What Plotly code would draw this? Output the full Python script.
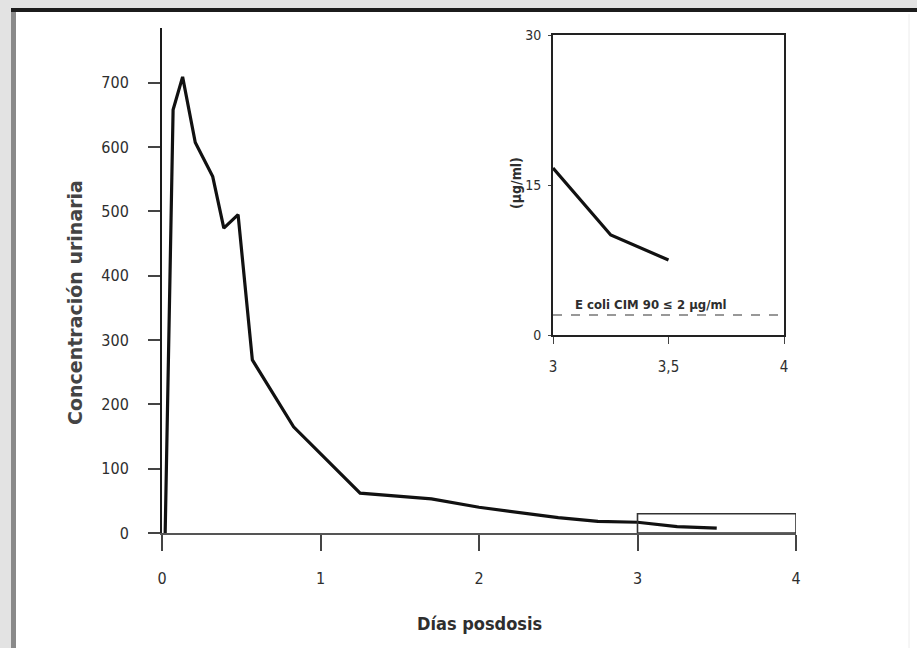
import plotly.graph_objects as go

# ---------------- data ----------------
dias = [0.02, 0.07, 0.13, 0.21, 0.32, 0.39, 0.48, 0.57, 0.83, 1.25, 1.70, 2.00, 2.50, 2.75, 3.00, 3.25, 3.50]
conc = [0, 658, 709, 607, 554, 474, 495, 269, 165, 62, 53, 40, 24, 18, 16.7, 10, 7.5]

x_ticks_main = [0, 1, 2, 3, 4]
y_ticks_main = [0, 100, 200, 300, 400, 500, 600, 700]

inset_x_ticks = [3, 3.5, 4]
inset_x_labels = ["3", "3,5", "4"]
inset_y_ticks = [0, 15, 30]
mic_value = 2
mic_label = "E coli CIM 90 ≤ 2 µg/ml"

inset_dias = [d for d in dias if d >= 3]
inset_conc = [c for d, c in zip(dias, conc) if d >= 3]

# ---------------- geometry helpers ----------------
W, H = 917, 648
L, R, T, B = 162, 796, 28, 533  # main plot area in pixels


def px(xp):
    return (xp - L) / (R - L)


def py(yp):
    return (B - yp) / (B - T)


NARROW = "Liberation Sans Narrow, DejaVu Sans Condensed, Arial Narrow, sans-serif"
TXT = "#2e2e2e"

fig = go.Figure()

fig.add_trace(go.Scatter(
    x=dias, y=conc, mode="lines",
    line=dict(color="#111111", width=3.2),
    xaxis="x", yaxis="y", hoverinfo="skip", showlegend=False,
))

fig.add_trace(go.Scatter(
    x=inset_dias, y=inset_conc, mode="lines",
    line=dict(color="#111111", width=3.2),
    xaxis="x2", yaxis="y2", hoverinfo="skip", showlegend=False,
))

fig.add_trace(go.Scatter(
    x=[inset_x_ticks[0], inset_x_ticks[-1]], y=[mic_value, mic_value], mode="lines",
    line=dict(color="#777777", width=1.6, dash="dash"),
    xaxis="x2", yaxis="y2", hoverinfo="skip", showlegend=False,
))

shapes = [
    # scan frame: grey margins
    dict(type="rect", xref="paper", yref="paper", x0=px(0), x1=px(11), y0=py(H), y1=py(0),
         fillcolor="#e3e3e3", line=dict(width=0), layer="below"),
    dict(type="rect", xref="paper", yref="paper", x0=px(0), x1=px(W), y0=py(8), y1=py(0),
         fillcolor="#e3e3e3", line=dict(width=0), layer="below"),
    # frame borders
    dict(type="line", xref="paper", yref="paper", x0=px(13.5), x1=px(13.5), y0=py(H), y1=py(9),
         line=dict(color="#8a8a8a", width=5)),
    dict(type="line", xref="paper", yref="paper", x0=px(11), x1=px(W), y0=py(10), y1=py(10),
         line=dict(color="#1c1c1c", width=4)),
    dict(type="line", xref="paper", yref="paper", x0=px(909), x1=px(909), y0=py(H), y1=py(14),
         line=dict(color="#ececec", width=1)),
    # zoom-region rectangle in main plot
    dict(type="rect", xref="x", yref="y", x0=3, x1=4, y0=0, y1=30,
         line=dict(color="#333333", width=1.6)),
]

annotations = [
    dict(text="Concentración urinaria", xref="paper", yref="paper",
         x=px(75), y=py(303), xanchor="center", yanchor="middle",
         textangle=-90, showarrow=False,
         font=dict(family="DejaVu Sans, sans-serif", size=19, color="#444444", weight="bold")),
    dict(text="Días posdosis", xref="paper", yref="paper",
         x=px(479), y=py(623), xanchor="center", yanchor="middle", showarrow=False,
         font=dict(family=NARROW, size=18, color=TXT, weight="bold")),
    dict(text="(µg/ml)", xref="paper", yref="paper",
         x=px(516), y=py(183), xanchor="center", yanchor="middle",
         textangle=-90, showarrow=False,
         font=dict(family=NARROW, size=14, color=TXT, weight="bold")),
    dict(text=mic_label, xref="x2", yref="y2",
         x=3.085, y=mic_value, yshift=11, xanchor="left", yanchor="middle", showarrow=False,
         font=dict(family=NARROW, size=13, color=TXT, weight="bold")),
]

fig.update_layout(
    width=W, height=H,
    margin=dict(l=L, r=W - R, t=T, b=H - B, pad=0),
    paper_bgcolor="white", plot_bgcolor="white",
    font=dict(family=NARROW, size=16, color=TXT),
    showlegend=False,
    shapes=shapes,
    annotations=annotations,
    xaxis=dict(
        domain=[0, 1], range=[0, 4], anchor="y",
        tickvals=x_ticks_main, ticks="outside", ticklen=16, tickwidth=1.5, tickcolor="#444",
        showline=True, linecolor="#555555", linewidth=1.5,
        showgrid=False, zeroline=False, ticklabelstandoff=14,
        tickfont=dict(family=NARROW, size=16, color=TXT),
    ),
    yaxis=dict(
        domain=[0, 1], range=[0, 785], anchor="x",
        tickvals=y_ticks_main, ticks="outside", ticklen=12, tickwidth=1.5, tickcolor="#444",
        showline=True, linecolor="#1a1a1a", linewidth=2,
        showgrid=False, zeroline=False, ticklabelstandoff=16,
        tickfont=dict(family=NARROW, size=16, color=TXT),
    ),
    xaxis2=dict(
        domain=[px(553), px(784)], range=[3, 4], anchor="y2",
        tickvals=inset_x_ticks, ticktext=inset_x_labels,
        ticks="outside", ticklen=7, tickwidth=1.2, tickcolor="#444",
        showline=True, mirror=True, linecolor="#222222", linewidth=2,
        showgrid=False, zeroline=False, ticklabelstandoff=10,
        tickfont=dict(family=NARROW, size=15, color=TXT),
    ),
    yaxis2=dict(
        domain=[py(335), py(35)], range=[0, 30], anchor="x2",
        tickvals=inset_y_ticks, ticks="outside", ticklen=3, tickwidth=1.2, tickcolor="#444",
        showline=True, mirror=True, linecolor="#222222", linewidth=2,
        showgrid=False, zeroline=False, ticklabelstandoff=4,
        tickfont=dict(family=NARROW, size=14, color=TXT),
    ),
)

fig.write_html("out.html", config={"displayModeBar": False},
               post_script="document.body.style.margin='0px';")
